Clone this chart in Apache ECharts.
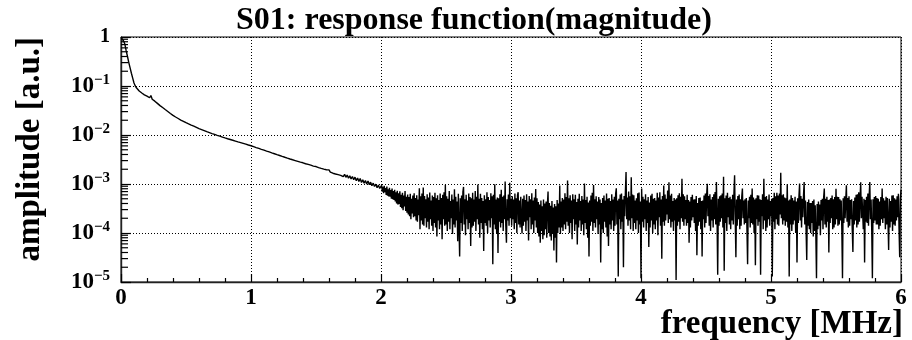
<!DOCTYPE html>
<html>
<head>
<meta charset="utf-8">
<script src="https://cdn.jsdelivr.net/npm/echarts@6/dist/echarts.min.js"></script>
<style>
  html, body { margin: 0; padding: 0; background: #fff; }
  #chart { width: 912px; height: 340px; }
</style>
</head>
<body>
<div id="chart"></div>
<script>
// Magnitude of the S01 response function.
// Falling part: 0.01 MHz bins from 0 to 2 MHz; noise floor: 0.005 MHz bins above 2 MHz.
const decayStep = 0.01;  // MHz
const noiseStart = 2.0;  // MHz
const noiseStep = 0.005; // MHz

// 0.00 - 2.00 MHz
const ampDecay = [
  0.98, 0.93, 0.83, 0.71, 0.52, 0.40, 0.30, 0.234, 0.182, 0.145,
  0.115, 0.100, 0.091, 0.085, 0.079, 0.076, 0.072, 0.069, 0.066, 0.064,
  0.062, 0.060, 0.0575, 0.064, 0.0537, 0.0513, 0.049, 0.0468, 0.0442, 0.0417,
  0.0398, 0.038, 0.0363, 0.0347, 0.0331, 0.0316, 0.0302, 0.0288, 0.0275, 0.0263,
  0.0251, 0.0242, 0.0233, 0.0225, 0.0217, 0.0209, 0.0202, 0.0196, 0.0190, 0.0184,
  0.0178, 0.0173, 0.0168, 0.0164, 0.0159, 0.0155, 0.0151, 0.0147, 0.0143, 0.0139,
  0.0135, 0.0132, 0.0129, 0.0126, 0.0123, 0.0120, 0.0117, 0.0115, 0.0112, 0.0110,
  0.0107, 0.0105, 0.0103, 0.0101, 0.00986, 0.00966, 0.00946, 0.00927, 0.00908, 0.00889,
  0.00871, 0.00855, 0.00839, 0.00824, 0.00809, 0.00794, 0.00780, 0.00766, 0.00752, 0.00738,
  0.00724, 0.00711, 0.00698, 0.00686, 0.00673, 0.00661, 0.00649, 0.00637, 0.00625, 0.00614,
  0.00603, 0.00590, 0.00578, 0.00566, 0.00554, 0.00543, 0.00532, 0.00521, 0.00510, 0.00499,
  0.00490, 0.00480, 0.00470, 0.00460, 0.00451, 0.00442, 0.00432, 0.00424, 0.00415, 0.00406,
  0.00398, 0.00390, 0.00382, 0.00374, 0.00366, 0.00359, 0.00351, 0.00344, 0.00337, 0.00330,
  0.00324, 0.00318, 0.00312, 0.00306, 0.00301, 0.00295, 0.00290, 0.00285, 0.00279, 0.00274,
  0.00271, 0.00262, 0.00259, 0.00252, 0.00251, 0.00243, 0.00242, 0.00234, 0.00232, 0.00225,
  0.00227, 0.00214, 0.00216, 0.00205, 0.00208, 0.00196, 0.00201, 0.00189, 0.00195, 0.00184,
  0.00194, 0.00174, 0.00184, 0.00166, 0.00178, 0.00160, 0.00171, 0.00155, 0.00165, 0.00150,
  0.00164, 0.00141, 0.00157, 0.00137, 0.00152, 0.00131, 0.00147, 0.00127, 0.00142, 0.00122,
  0.00138, 0.00117, 0.00132, 0.00112, 0.00129, 0.00107, 0.00122, 0.00104, 0.00118, 0.00100,
  0.00115, 0.00097, 0.00109, 0.00092, 0.00104, 0.00089, 0.00099, 0.00084, 0.00095, 0.00081,
  0.00088
];

// 2.005 - 3.000 MHz
const ampNoise2 = [
  9.4e-4, 7.0e-4, 8.8e-4, 6.5e-4, 9.2e-4, 6.8e-4, 8.3e-4, 6.0e-4, 8.9e-4, 5.8e-4,
  7.8e-4, 5.6e-4, 8.4e-4, 5.5e-4, 7.5e-4, 5.0e-4, 8.1e-4, 4.9e-4, 7.2e-4, 4.7e-4,
  7.6e-4, 4.4e-4, 6.8e-4, 4.0e-4, 7.3e-4, 3.8e-4, 6.5e-4, 3.9e-4, 7.1e-4, 3.4e-4,
  6.0e-4, 3.2e-4, 6.6e-4, 2.9e-4, 5.8e-4, 3.5e-4, 7.2e-4, 2.8e-4, 5.5e-4, 2.6e-4,
  6.1e-4, 2.4e-4, 5.4e-4, 2.2e-4, 6.3e-4, 1.9e-4, 5.0e-4, 2.5e-4, 5.8e-4, 2.1e-4,
  6.5e-4, 2.2e-4, 5.2e-4, 1.8e-4, 5.9e-4, 1.7e-4, 4.8e-4, 2.3e-4, 8.2e-4, 1.2e-4,
  5.6e-4, 1.8e-4, 6.4e-4, 1.5e-4, 8.5e-4, 1.4e-4, 5.7e-4, 2.0e-4, 4.9e-4, 1.3e-4,
  6.2e-4, 1.7e-4, 5.3e-4, 1.2e-4, 6.7e-4, 1.9e-4, 4.6e-4, 1.4e-4, 5.8e-4, 1.1e-4,
  5.4e-4, 1.6e-4, 6.6e-4, 1.3e-4, 5.1e-4, 8.5e-5, 5.9e-4, 1.8e-4, 4.7e-4, 1.2e-4,
  6.4e-4, 1.5e-4, 5.2e-4, 7.5e-5, 6.0e-4, 1.9e-4, 6.8e-4, 1.4e-4, 9.6e-4, 1.5e-4,
  5.6e-4, 1.1e-4, 5.0e-4, 1.7e-4, 7.2e-4, 1.2e-4, 4.5e-4, 2.0e-4, 6.1e-4, 9.5e-5,
  4.8e-4, 1.5e-4, 7.8e-4, 1.3e-4, 5.5e-4, 1.8e-4, 4.4e-4, 6.8e-5, 6.3e-4, 1.4e-4,
  3.3e-5, 5.1e-4, 1.6e-4, 5.8e-4, 1.1e-4, 6.9e-4, 8.7e-4, 1.5e-4, 4.9e-4, 9.0e-5,
  6.0e-4, 1.9e-4, 4.6e-4, 1.2e-4, 6.4e-4, 1.6e-4, 5.4e-4, 5.4e-5, 5.1e-4, 1.3e-4,
  6.6e-4, 1.4e-4, 4.8e-4, 1.7e-4, 7.2e-4, 1.1e-4, 5.5e-4, 1.9e-4, 9.8e-4, 1.5e-4,
  5.0e-4, 8.0e-5, 6.3e-4, 1.6e-4, 5.2e-4, 1.2e-4, 4.5e-4, 4.3e-5, 5.9e-4, 1.6e-4,
  4.9e-4, 1.4e-4, 6.8e-4, 1.0e-4, 5.4e-4, 1.8e-4, 4.7e-4, 1.3e-4, 6.5e-4, 2.0e-4,
  5.6e-4, 2.3e-5, 6.0e-4, 1.5e-4, 9.9e-4, 1.2e-4, 4.8e-4, 9.5e-5, 5.3e-4, 3.9e-5,
  5.1e-4, 1.7e-4, 6.2e-4, 1.3e-4, 7.6e-4, 1.6e-4, 5.5e-4, 1.1e-4, 5.8e-4, 1.9e-4,
  1.13e-3, 1.4e-4, 6.3e-5, 4.9e-4, 1.8e-4, 6.1e-4, 1.4e-4, 1.06e-3, 2.0e-4, 5.0e-4
];

// 3.005 - 4.000 MHz
const ampNoise3 = [
  1.4e-4, 5.6e-4, 1.9e-4, 4.8e-4, 1.2e-4, 6.4e-4, 1.6e-4, 5.1e-4, 1.0e-4, 5.9e-4,
  6.8e-4, 1.5e-4, 4.6e-4, 1.3e-4, 5.5e-4, 1.9e-4, 9.8e-5, 5.0e-4, 1.4e-4, 5.8e-4,
  1.7e-4, 4.7e-4, 1.1e-4, 6.2e-4, 1.8e-4, 4.4e-4, 7.0e-5, 5.7e-4, 2.1e-4, 4.9e-4,
  1.2e-4, 6.5e-4, 1.5e-4, 4.6e-4, 1.0e-4, 5.3e-4, 1.8e-4, 7.9e-4, 1.3e-4, 5.1e-4,
  1.0e-4, 4.3e-4, 8.5e-5, 3.8e-4, 6.3e-5, 4.6e-4, 1.1e-4, 3.5e-4, 7.5e-5, 4.8e-4,
  9.0e-5, 4.0e-4, 1.2e-4, 4.4e-4, 8.0e-5, 3.7e-4, 7.0e-4, 1.0e-4, 4.1e-4, 8.5e-5,
  3.6e-4, 7.0e-5, 4.5e-4, 9.5e-5, 3.3e-4, 4.4e-5, 3.9e-4, 8.0e-5, 3.5e-4, 2.5e-5,
  4.7e-4, 1.0e-4, 4.0e-4, 1.3e-4, 9.3e-4, 9.5e-5, 4.4e-4, 1.3e-4, 5.2e-4, 1.1e-4,
  4.8e-4, 1.5e-4, 6.5e-4, 1.2e-4, 5.4e-4, 1.7e-4, 1.18e-3, 1.4e-4, 5.1e-4, 1.0e-4,
  5.9e-4, 1.6e-4, 4.6e-4, 7.5e-5, 6.2e-4, 1.9e-4, 4.9e-4, 1.1e-4, 6.0e-4, 1.5e-4,
  4.3e-4, 5.8e-5, 5.0e-4, 1.3e-4, 6.3e-4, 1.8e-4, 4.5e-4, 1.1e-4, 5.7e-4, 1.5e-4,
  4.8e-4, 9.0e-5, 1.02e-3, 1.6e-4, 4.7e-4, 1.2e-4, 5.5e-4, 8.0e-5, 4.2e-4, 3.3e-5,
  4.6e-4, 1.4e-4, 5.8e-4, 1.7e-4, 6.6e-4, 1.1e-4, 9.5e-4, 1.6e-4, 4.9e-4, 1.3e-4,
  5.6e-4, 1.9e-4, 4.4e-4, 9.5e-5, 5.4e-4, 1.5e-4, 4.8e-4, 2.5e-5, 4.1e-4, 1.2e-4,
  5.2e-4, 1.0e-4, 5.8e-4, 1.7e-4, 4.6e-4, 1.3e-4, 6.4e-4, 8.5e-5, 5.0e-4, 5.4e-5,
  5.2e-4, 1.5e-4, 4.5e-4, 1.2e-4, 6.2e-4, 1.8e-4, 4.8e-4, 1.1e-4, 5.5e-4, 1.4e-4,
  6.4e-4, 8.2e-4, 1.5e-4, 4.6e-4, 1.3e-5, 5.0e-4, 1.9e-4, 6.1e-4, 1.2e-4, 6.4e-4,
  1.7e-4, 4.8e-4, 2.0e-5, 5.7e-4, 2.2e-4, 6.9e-4, 1.75e-3, 1.9e-4, 5.3e-4, 1.4e-4,
  7.0e-4, 1.8e-4, 5.6e-4, 1.2e-4, 1.38e-3, 2.0e-4, 6.1e-4, 1.1e-4, 5.9e-4, 1.6e-4,
  4.6e-4, 1.2e-4, 5.1e-4, 1.8e-4, 6.5e-4, 1.0e-4, 6.7e-4, 1.5e-4, 4.4e-4, 1.2e-5
];

// 4.005 - 5.000 MHz
const ampNoise4 = [
  8.1e-4, 1.7e-4, 5.5e-4, 1.3e-4, 4.9e-4, 1.9e-4, 6.2e-4, 1.1e-4, 4.6e-4, 1.6e-4,
  5.4e-4, 5.2e-5, 4.2e-4, 1.3e-4, 5.8e-4, 1.8e-4, 6.3e-4, 1.0e-4, 5.0e-4, 1.5e-4,
  5.2e-4, 1.2e-4, 4.6e-4, 1.8e-4, 6.6e-4, 9.0e-5, 5.3e-4, 2.1e-4, 6.8e-4, 1.4e-4,
  4.8e-4, 3.0e-5, 5.7e-4, 1.7e-4, 9.3e-4, 1.4e-4, 6.1e-4, 1.8e-4, 5.0e-4, 2.4e-4,
  7.4e-4, 1.6e-4, 1.09e-3, 1.9e-4, 5.8e-4, 1.3e-4, 6.3e-4, 1.7e-4, 4.5e-4, 1.1e-4,
  5.2e-4, 1.8e-4, 4.8e-4, 1.1e-5, 5.1e-4, 1.4e-4, 5.9e-4, 1.7e-4, 6.5e-4, 1.2e-4,
  5.5e-4, 2.0e-4, 1.28e-3, 1.7e-4, 6.2e-4, 1.4e-4, 5.6e-4, 1.9e-4, 4.7e-4, 1.4e-4,
  6.0e-4, 1.6e-4, 4.7e-4, 6.3e-5, 4.4e-4, 1.3e-4, 5.4e-4, 1.8e-4, 6.0e-4, 2.1e-4,
  4.8e-4, 1.6e-4, 4.9e-4, 1.1e-4, 5.7e-4, 3.5e-5, 4.1e-4, 1.4e-4, 5.2e-4, 1.7e-4,
  5.3e-4, 1.2e-4, 4.5e-4, 3.3e-5, 4.6e-4, 1.9e-4, 5.8e-4, 1.3e-4, 6.4e-4, 1.6e-4,
  6.0e-4, 1.01e-3, 2.2e-4, 5.7e-4, 1.4e-4, 6.2e-4, 1.1e-4, 4.8e-4, 1.8e-4, 5.4e-4,
  1.3e-4, 6.2e-4, 1.9e-4, 6.9e-4, 1.5e-4, 1.1e-3, 2.0e-4, 1.4e-5, 5.0e-4, 1.4e-4,
  5.6e-4, 1.7e-4, 5.9e-4, 2.0e-4, 6.4e-4, 1.3e-4, 1.4e-3, 1.7e-5, 5.1e-4, 1.6e-4,
  5.8e-4, 1.1e-4, 6.6e-4, 2.1e-4, 5.2e-4, 1.5e-4, 5.5e-4, 1.2e-4, 4.9e-4, 1.8e-4,
  6.0e-4, 1.5e-4, 6.6e-4, 1.5e-3, 1.9e-4, 3.2e-5, 4.8e-4, 1.4e-4, 5.7e-4, 1.9e-4,
  6.1e-4, 1.2e-4, 4.9e-4, 1.4e-4, 5.4e-4, 8.1e-4, 2.0e-4, 4.6e-4, 1.5e-4, 4.9e-4,
  1.6e-4, 5.2e-4, 1.2e-4, 2.3e-5, 4.6e-4, 2.0e-4, 5.5e-4, 1.3e-4, 6.0e-4, 1.6e-4,
  8.1e-4, 1.5e-4, 5.3e-4, 1.0e-4, 4.8e-4, 2.2e-5, 5.1e-4, 1.9e-4, 5.9e-4, 1.4e-4,
  5.8e-4, 1.7e-4, 4.9e-4, 1.4e-5, 4.7e-4, 2.2e-4, 6.2e-4, 1.2e-4, 1.28e-3, 1.8e-4,
  5.4e-4, 1.1e-4, 5.7e-4, 1.3e-4, 4.8e-4, 1.9e-4, 6.1e-4, 1.4e-4, 4.5e-4, 2.2e-4
];

// 5.005 - 6.000 MHz
const ampNoise5 = [
  5.0e-4, 1.3e-5, 5.2e-4, 1.7e-4, 6.6e-4, 1.2e-4, 5.6e-4, 1.9e-4, 6.6e-4, 1.5e-4,
  5.8e-4, 1.4e-4, 6.4e-4, 2.4e-4, 1.7e-3, 2.0e-4, 5.9e-4, 1.5e-4, 6.2e-4, 1.8e-4,
  5.3e-4, 1.4e-4, 5.1e-4, 1.7e-4, 9.9e-4, 1.3e-4, 4.6e-4, 1.3e-5, 4.8e-4, 1.5e-4,
  5.9e-4, 1.1e-4, 5.2e-4, 1.5e-4, 4.6e-4, 1.8e-4, 5.5e-4, 1.0e-4, 4.4e-4, 2.5e-5,
  5.1e-4, 1.6e-4, 5.6e-4, 1.02e-3, 1.8e-4, 5.7e-4, 1.3e-4, 5.0e-4, 2.1e-4, 5.8e-4,
  1.1e-3, 1.5e-4, 4.6e-4, 1.1e-4, 2.8e-5, 4.3e-4, 1.4e-4, 4.8e-4, 1.2e-4, 4.1e-4,
  1.0e-4, 4.1e-4, 1.6e-4, 4.5e-4, 8.5e-5, 4.8e-4, 1.1e-4, 3.7e-4, 9.0e-5, 1.2e-5,
  3.9e-4, 1.2e-4, 4.4e-4, 1.4e-4, 3.8e-4, 9.0e-5, 4.7e-4, 1.8e-4, 5.0e-4, 1.2e-4,
  5.3e-4, 8.1e-4, 1.5e-4, 5.0e-4, 1.3e-4, 5.5e-4, 1.7e-4, 4.7e-4, 4.0e-5, 4.8e-4,
  1.6e-4, 5.2e-4, 2.0e-4, 5.8e-4, 1.2e-4, 4.9e-4, 1.3e-4, 5.4e-4, 1.5e-4, 8.0e-4,
  1.9e-4, 5.5e-4, 1.4e-4, 5.4e-4, 1.5e-4, 4.9e-4, 1.8e-4, 4.6e-4, 1.1e-4, 1.2e-5,
  5.1e-4, 1.6e-4, 5.6e-4, 2.0e-4, 4.8e-4, 9.4e-4, 1.7e-4, 5.2e-4, 1.3e-4, 5.6e-4,
  1.4e-4, 4.7e-4, 1.9e-4, 4.9e-4, 1.2e-4, 4.1e-5, 4.5e-4, 1.5e-4, 5.3e-4, 1.8e-4,
  6.0e-4, 1.3e-4, 6.2e-4, 1.5e-4, 6.8e-4, 1.7e-4, 5.1e-4, 1.09e-3, 2.0e-4, 5.5e-4,
  5.3e-4, 1.2e-4, 5.0e-4, 2.5e-5, 4.7e-4, 1.7e-4, 5.5e-4, 1.6e-4, 6.4e-4, 1.4e-4,
  5.7e-4, 1.1e-3, 1.9e-4, 4.8e-4, 1.1e-4, 1.2e-5, 4.9e-4, 1.6e-4, 5.4e-4, 1.8e-4,
  5.7e-4, 1.5e-4, 5.2e-4, 1.5e-4, 5.0e-4, 1.2e-4, 4.4e-4, 1.4e-4, 5.4e-4, 1.9e-4,
  8.1e-4, 1.6e-4, 5.1e-4, 2.0e-4, 4.6e-4, 1.2e-4, 5.5e-4, 1.5e-4, 5.2e-4, 1.7e-4,
  4.5e-5, 5.0e-4, 1.3e-4, 4.5e-4, 1.7e-4, 5.8e-4, 1.1e-4, 5.9e-4, 1.5e-4, 5.1e-4,
  1.4e-4, 4.8e-4, 1.8e-4, 5.6e-4, 2.1e-4, 6.3e-4, 1.2e-4, 3.2e-5, 4.9e-4, 7.6e-4
];

const chartTitle = 'S01: response function(magnitude)';
const xTitle = 'frequency [MHz]';
const yTitle = 'amplitude [a.u.]';
const freqRange = [0, 6];
const ampRange = [1e-5, 1];

const SERIF = '"Liberation Serif", "Times New Roman", serif';

// [frequency, amplitude] pairs
const spectrum = ampDecay.map((a, i) => [+(i * decayStep).toFixed(3), a]);
ampNoise2.concat(ampNoise3, ampNoise4, ampNoise5).forEach((a, j) => {
  spectrum.push([+(noiseStart + (j + 1) * noiseStep).toFixed(3), a]);
});

// log-axis minor ticks at 2..9 x 10^k
const minorY = [];
for (let e = -5; e < 0; e++) {
  for (let m = 2; m <= 9; m++) minorY.push([freqRange[0], m * Math.pow(10, e)]);
}

const chart = echarts.init(document.getElementById('chart'), null, { renderer: 'canvas' });

const dotted = { color: '#000', width: 1, type: [1, 2] };

chart.setOption({
  animation: false,
  backgroundColor: '#fff',
  grid: {
    left: 121, right: 11, top: 37, bottom: 58,
    show: true, borderColor: '#000', borderWidth: 1, backgroundColor: 'transparent'
  },
  xAxis: {
    type: 'value',
    min: freqRange[0], max: freqRange[1], interval: 1,
    axisLine: { show: true, lineStyle: { color: '#222', width: 1.4 } },
    axisTick: { show: true, inside: true, length: 8, lineStyle: { color: '#000', width: 1.2 } },
    minorTick: { show: true, splitNumber: 5, length: 4, lineStyle: { color: '#000', width: 1.2 } },
    axisLabel: {
      margin: 5, color: '#000', fontFamily: SERIF, fontWeight: 'bold', fontSize: 23,
      showMinLabel: true, showMaxLabel: true
    },
    splitLine: { show: true, lineStyle: dotted }
  },
  yAxis: {
    type: 'log', logBase: 10,
    min: ampRange[0], max: ampRange[1],
    axisLine: { show: true, lineStyle: { color: '#222', width: 1.4 } },
    axisTick: { show: true, inside: true, length: 10, lineStyle: { color: '#000', width: 1.2 } },
    axisLabel: {
      margin: 11, color: '#000', fontFamily: SERIF, fontWeight: 'bold',
      showMinLabel: true, showMaxLabel: true,
      formatter: function (v) {
        const k = Math.round(Math.log10(v));
        if (k === 0) return '{one|1}';
        return '{b|10}{s|\u2212' + (-k) + '}';
      },
      rich: {
        one: { fontFamily: SERIF, fontWeight: 'bold', fontSize: 20, color: '#000' },
        b: { fontFamily: SERIF, fontWeight: 'bold', fontSize: 23, lineHeight: 26, color: '#000' },
        s: { fontFamily: SERIF, fontWeight: 'bold', fontSize: 15, lineHeight: 14, verticalAlign: 'top', color: '#000' }
      }
    },
    splitLine: { show: true, lineStyle: dotted }
  },
  series: [
    {
      type: 'line',
      data: spectrum,
      showSymbol: false,
      symbol: 'none',
      sampling: false,
      clip: true,
      lineStyle: { color: '#000', width: 1.4 },
      z: 3
    },
    {
      type: 'custom',
      data: minorY,
      silent: true,
      clip: false,
      z: 4,
      renderItem: function (params, api) {
        const p = api.coord([api.value(0), api.value(1)]);
        return {
          type: 'line',
          shape: { x1: p[0], y1: p[1], x2: p[0] + 7, y2: p[1] },
          style: { stroke: '#000', lineWidth: 1.2 }
        };
      }
    }
  ],
  graphic: [
    {
      type: 'text', x: 474, y: 21, silent: true,
      style: {
        text: chartTitle, fill: '#000',
        font: 'bold 32px ' + SERIF, align: 'center', verticalAlign: 'middle'
      }
    },
    {
      type: 'text', x: 903, y: 324, silent: true,
      style: {
        text: xTitle, fill: '#000',
        font: 'bold 33px ' + SERIF, align: 'right', verticalAlign: 'middle'
      }
    },
    {
      type: 'text', x: 30, y: 37, rotation: Math.PI / 2, silent: true,
      style: {
        text: yTitle, fill: '#000',
        font: 'bold 33px ' + SERIF, align: 'right', verticalAlign: 'middle'
      }
    }
  ]
});
</script>
</body>
</html>
